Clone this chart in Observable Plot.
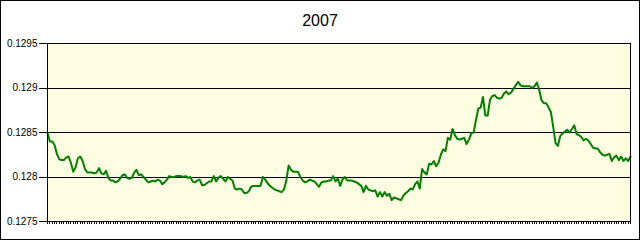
<!DOCTYPE html>
<html><head><meta charset="utf-8">
<script src="https://cdn.jsdelivr.net/npm/d3@7"></script>
<script src="https://cdn.jsdelivr.net/npm/@observablehq/plot@0.6"></script>
<style>
html,body{margin:0;padding:0;background:#fff;}
#chart{position:relative;width:640px;height:240px;outline:1px solid #000;outline-offset:-1px;overflow:hidden;font-family:"Liberation Sans",Arial,sans-serif;}
#title{position:absolute;left:0;top:0;width:640px;height:36px;text-align:center;font-size:16px;line-height:16px;padding-top:13px;box-sizing:border-box;color:#000;}
#plot{position:absolute;left:0;top:36px;}
</style></head><body>
<div id="chart"><div id="title"></div><div id="plot"></div></div>
<script>
const chartTitle = "2007";
const yTicks = [0.1275, 0.128, 0.1285, 0.129, 0.1295];
const rates = [
0.12850,0.12840,0.12840,0.12836,0.12826,0.12820,0.12819,0.12819,0.12822,0.12823,
0.12816,0.12806,0.12811,0.12821,0.12823,0.12818,0.12809,0.12805,0.12805,0.12805,
0.12804,0.12805,0.12810,0.12804,0.12803,0.12807,0.12799,0.12796,0.12796,0.12794,
0.12795,0.12798,0.12802,0.12803,0.12799,0.12798,0.12799,0.12805,0.12808,0.12802,
0.12803,0.12800,0.12797,0.12794,0.12795,0.12796,0.12795,0.12797,0.12796,0.12792,
0.12794,0.12797,0.12801,0.12800,0.12800,0.12801,0.12801,0.12801,0.12800,0.12801,
0.12799,0.12800,0.12795,0.12794,0.12796,0.12797,0.12791,0.12791,0.12793,0.12795,
0.12795,0.12801,0.12795,0.12799,0.12801,0.12798,0.12795,0.12800,0.12798,0.12796,
0.12787,0.12786,0.12787,0.12786,0.12782,0.12782,0.12784,0.12789,0.12790,0.12790,
0.12790,0.12790,0.12800,0.12797,0.12793,0.12790,0.12788,0.12786,0.12785,0.12784,
0.12783,0.12786,0.12796,0.12813,0.12808,0.12806,0.12806,0.12806,0.12800,0.12796,
0.12794,0.12795,0.12797,0.12796,0.12795,0.12792,0.12789,0.12794,0.12795,0.12795,
0.12796,0.12796,0.12801,0.12795,0.12798,0.12790,0.12797,0.12800,0.12796,0.12796,
0.12796,0.12795,0.12794,0.12792,0.12790,0.12783,0.12790,0.12786,0.12785,0.12784,
0.12785,0.12778,0.12783,0.12778,0.12783,0.12779,0.12781,0.12774,0.12777,0.12776,
0.12775,0.12774,0.12779,0.12782,0.12784,0.12787,0.12786,0.12792,0.12795,0.12787,
0.12809,0.12805,0.12803,0.12815,0.12814,0.12818,0.12812,0.12816,0.12825,0.12831,
0.12829,0.12844,0.12842,0.12854,0.12847,0.12843,0.12842,0.12843,0.12844,0.12837,
0.12842,0.12849,0.12850,0.12864,0.12877,0.12878,0.12890,0.12869,0.12869,0.12887,
0.12891,0.12892,0.12889,0.12888,0.12889,0.12894,0.12896,0.12893,0.12895,0.12899,
0.12903,0.12907,0.12903,0.12902,0.12902,0.12902,0.12902,0.12900,0.12902,0.12906,
0.12898,0.12886,0.12883,0.12883,0.12878,0.12873,0.12856,0.12838,0.12835,0.12846,
0.12849,0.12851,0.12853,0.12850,0.12854,0.12858,0.12848,0.12847,0.12845,0.12841,
0.12843,0.12841,0.12837,0.12833,0.12832,0.12832,0.12828,0.12825,0.12824,0.12825,
0.12826,0.12818,0.12822,0.12824,0.12819,0.12823,0.12818,0.12821,0.12818,0.12823
];
const days = rates.map((_, i) => i);
const data = days.map(i => ({day: i, rate: rates[i]}));

document.getElementById("title").textContent = chartTitle;

const crisp = {shapeRendering: "crispEdges"};
const chart = Plot.plot({
  width: 640,
  height: 204,
  marginTop: 7,
  marginBottom: 19,
  marginLeft: 47,
  marginRight: 10,
  style: {background: "transparent", fontFamily: "'Liberation Sans', Arial, sans-serif", fontSize: "10px", color: "#000"},
  x: {domain: [0, rates.length - 1]},
  y: {domain: [yTicks[0], yTicks[yTicks.length - 1]]},
  marks: [
    Plot.frame({fill: "#fffde1", stroke: null, ...crisp}),
    Plot.ruleY(yTicks, {stroke: "#000", strokeWidth: 1, ...crisp}),
    Plot.line(data, {x: "day", y: "rate", stroke: "#008000", strokeWidth: 2}),
    Plot.frame({stroke: "#000", strokeWidth: 1, ...crisp}),
    Plot.axisY({ticks: yTicks, tickSize: 8, tickPadding: 2, tickFormat: d => String(d), label: null, stroke: "#000", ...crisp}),
    Plot.axisX({ticks: days, tickSize: 3, tickFormat: () => "", label: null, stroke: "#000", ...crisp})
  ]
});
document.getElementById("plot").appendChild(chart);
</script>
</body></html>
